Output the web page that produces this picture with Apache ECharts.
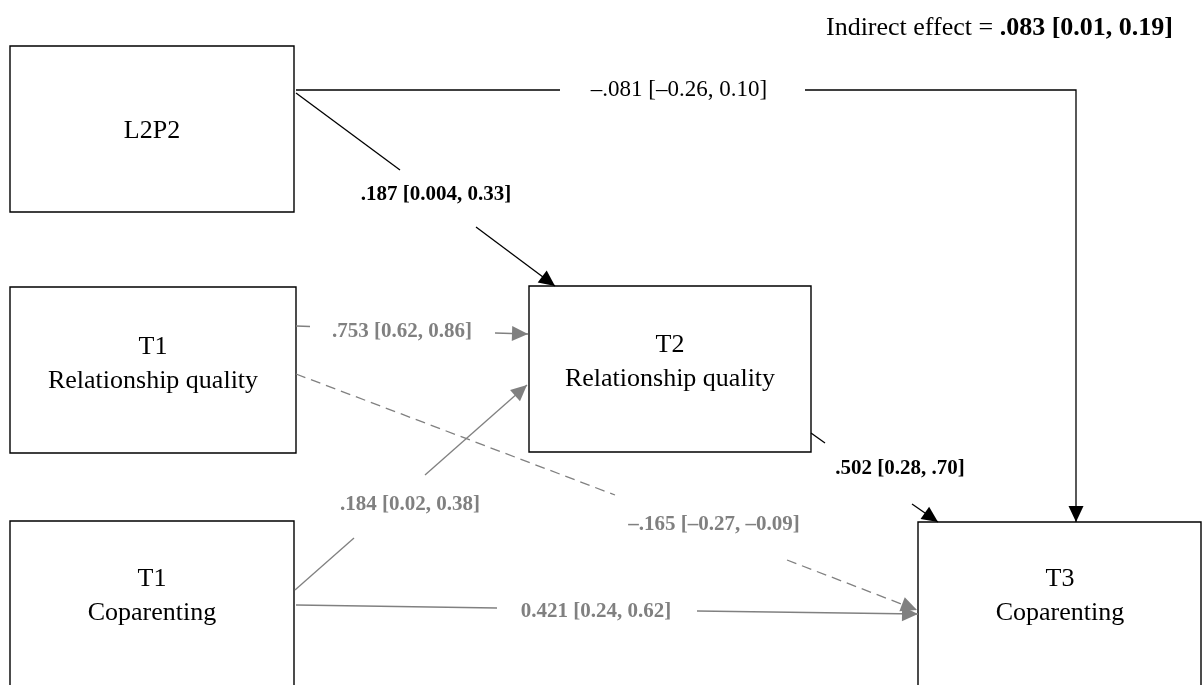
<!DOCTYPE html>
<html>
<head>
<meta charset="utf-8">
<script src="https://cdn.jsdelivr.net/npm/echarts@6/dist/echarts.min.js"></script>
<style>
html,body{margin:0;padding:0;background:#fff;}
#chart{width:1203px;height:685px;}
</style>
</head>
<body>
<div id="chart"></div>
<script>
// ---------- data ----------
const nodeNames = ['L2P2', 'T1\nRelationship quality', 'T1\nCoparenting', 'T2\nRelationship quality', 'T3\nCoparenting'];
const pathFrom = [0, 0, 1, 1, 2, 2, 3];
const pathTo   = [4, 3, 3, 4, 3, 4, 4];
const pathLabels = [
  '\u2013.081 [\u20130.26, 0.10]',
  '.187 [0.004, 0.33]',
  '.753 [0.62, 0.86]',
  '\u2013.165 [\u20130.27, \u20130.09]',
  '.184 [0.02, 0.38]',
  '0.421 [0.24, 0.62]',
  '.502 [0.28, .70]'
];
const indirectLabel = 'Indirect effect = ';
const indirectValue = '.083 [0.01, 0.19]';

// ---------- layout (diagram units = canvas pixels) ----------
const boxRects = [
  [10, 46, 294, 212],
  [10, 287, 296, 453],
  [10, 521, 294, 700],
  [529, 286, 811, 452],
  [918, 522, 1201, 700]
];
const boxTextCenters = [[152, 131], [153, 364], [152, 596], [670, 362], [1060, 596]];
const pathSegments = [
  [[[296, 90], [560, 90]], [[805, 90], [1076, 90], [1076, 522]]],
  [[[296, 93], [400, 170]], [[476, 227], [555, 286]]],
  [[[296, 326], [310, 326.5]], [[495, 333], [528, 334]]],
  [[[296, 374], [615, 495]], [[787, 560], [917, 610]]],
  [[[295, 590], [354, 538]], [[425, 475], [527, 385]]],
  [[[296, 605], [497, 608]], [[697, 611], [918, 614]]],
  [[[811, 433], [825, 443]], [[912, 504], [938, 522]]]
];
const pathLabelCenters = [[679, 90], [436, 195], [402, 332], [714, 525], [410, 505], [596, 612], [900, 469]];
// styles
const pathStyle = [
  {color: '#000', bold: false, size: 23, dash: null},
  {color: '#000', bold: true, size: 21, dash: null},
  {color: '#808080', bold: true, size: 21, dash: null},
  {color: '#808080', bold: true, size: 21, dash: [10, 6]},
  {color: '#808080', bold: true, size: 21, dash: null},
  {color: '#808080', bold: true, size: 21, dash: null},
  {color: '#000', bold: true, size: 21, dash: null}
];
const FONT = '"Liberation Serif", "Times New Roman", serif';

const chart = echarts.init(document.getElementById('chart'), null, {renderer: 'canvas'});

function renderBox(params, api) {
  const i = params.dataIndex;
  const r = boxRects[i];
  const p0 = api.coord([r[0], r[1]]);
  const p1 = api.coord([r[2], r[3]]);
  const c = api.coord(boxTextCenters[i]);
  return {
    type: 'group',
    children: [
      {type: 'rect', shape: {x: p0[0], y: p0[1], width: p1[0] - p0[0], height: p1[1] - p0[1]},
       style: {fill: '#fff', stroke: '#000', lineWidth: 1.4}},
      {type: 'text', x: c[0], y: c[1],
       style: {text: nodeNames[i], font: '26px ' + FONT, fill: '#000', align: 'center', verticalAlign: 'middle', lineHeight: 34}}
    ]
  };
}

function renderPath(params, api) {
  const i = params.dataIndex;
  const st = pathStyle[i];
  const segs = pathSegments[i];
  const children = [];
  segs.forEach(function (seg) {
    const pts = seg.map(function (p) { return api.coord(p); });
    children.push({
      type: 'polyline', shape: {points: pts},
      style: {stroke: st.color, lineWidth: 1.3, fill: null, lineDash: st.dash || null}
    });
  });
  // arrow head
  const last = segs[segs.length - 1];
  const tip = api.coord(last[last.length - 1]);
  const prev = api.coord(last[last.length - 2]);
  const dx = tip[0] - prev[0], dy = tip[1] - prev[1];
  const len = Math.sqrt(dx * dx + dy * dy);
  const ux = dx / len, uy = dy / len;
  const L = 16, W = 7.5;
  const bx = tip[0] - ux * L, by = tip[1] - uy * L;
  children.push({
    type: 'polygon',
    shape: {points: [tip, [bx - uy * W, by + ux * W], [bx + uy * W, by - ux * W]]},
    style: {fill: st.color, stroke: null}
  });
  // label
  const c = api.coord(pathLabelCenters[i]);
  children.push({
    type: 'text', x: c[0], y: c[1],
    style: {text: pathLabels[i], font: (st.bold ? 'bold ' : '') + st.size + 'px ' + FONT, fill: st.color,
            align: 'center', verticalAlign: 'middle'}
  });
  return {type: 'group', children: children};
}

chart.setOption({
  animation: false,
  backgroundColor: '#fff',
  title: {
    text: '{a|' + indirectLabel + '}{b|' + indirectValue + '}',
    right: 30, top: 15, padding: 0,
    textStyle: {
      rich: {
        a: {fontFamily: FONT, fontSize: 26, color: '#000', fontWeight: 'normal'},
        b: {fontFamily: FONT, fontSize: 26, color: '#000', fontWeight: 'bold'}
      }
    }
  },
  grid: {left: 0, right: 0, top: 0, bottom: 0},
  xAxis: {type: 'value', min: 0, max: 1203, show: false},
  yAxis: {type: 'value', min: 0, max: 685, inverse: true, show: false},
  tooltip: {show: false},
  series: [
    {type: 'custom', name: 'boxes', renderItem: renderBox, clip: false, silent: true,
     data: boxTextCenters.map(function (c) { return c.slice(); }), z: 1},
    {type: 'custom', name: 'paths', renderItem: renderPath, clip: false, silent: true,
     data: pathLabelCenters.map(function (c) { return c.slice(); }), z: 2}
  ]
});
</script>
</body>
</html>
